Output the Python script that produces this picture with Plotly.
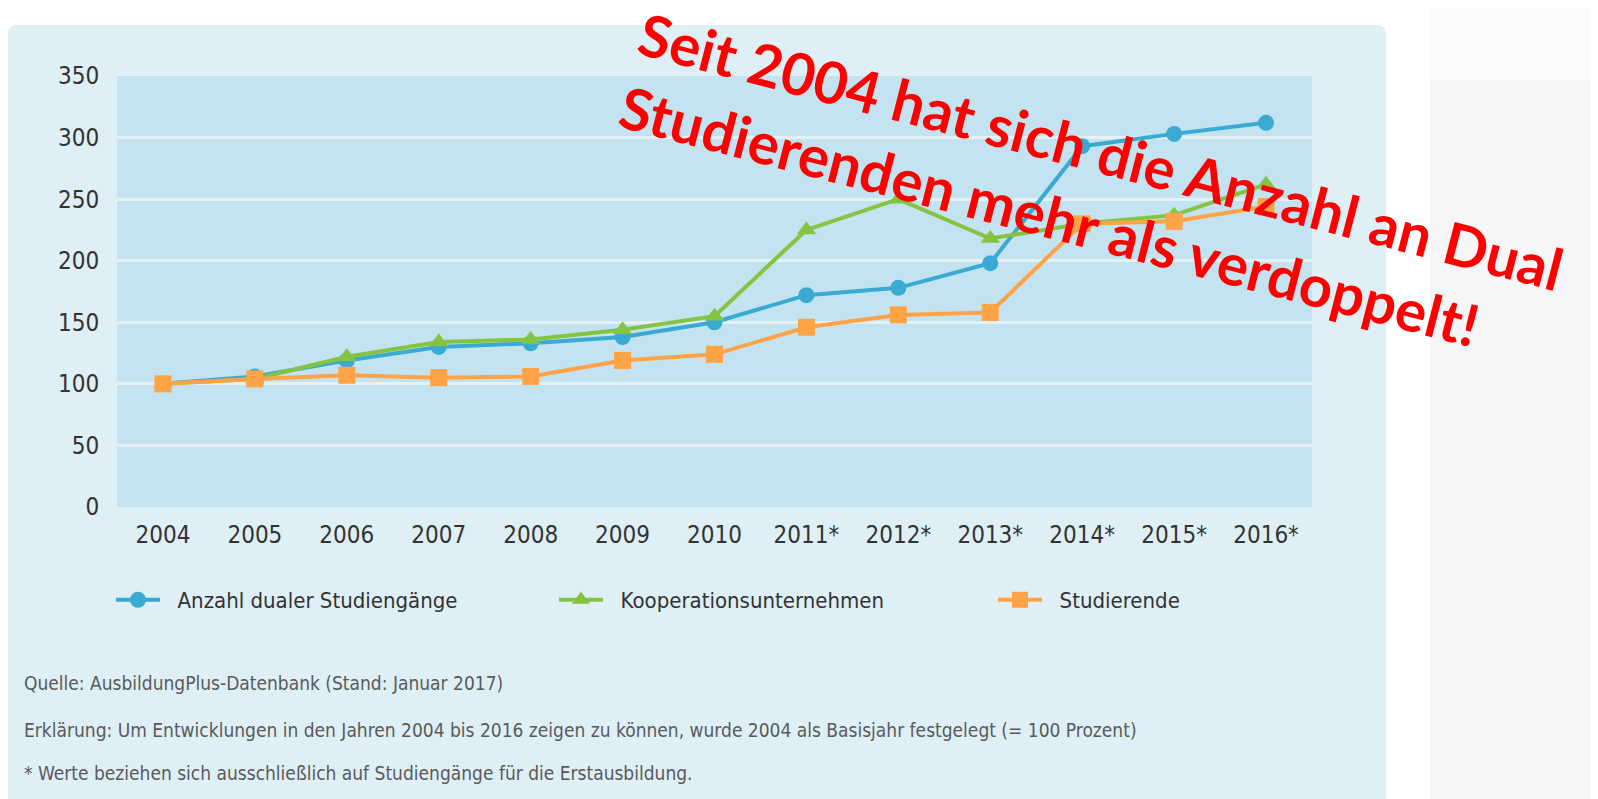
import plotly.graph_objects as go

# ---- data ----
years = ["2004", "2005", "2006", "2007", "2008", "2009", "2010",
         "2011*", "2012*", "2013*", "2014*", "2015*", "2016*"]
studiengaenge = [100, 106, 119, 130, 133, 138, 150, 172, 178, 198, 293, 303, 312]
kooperation = [100, 104, 122, 134, 136, 144, 155, 225, 250, 218, 230, 237, 262]
studierende = [100, 104, 107, 105, 106, 119, 124, 146, 156, 158, 230, 232, 244]
y_ticks = [0, 50, 100, 150, 200, 250, 300, 350]

series_names = ["Anzahl dualer Studiengänge", "Kooperationsunternehmen", "Studierende"]
footer_lines = [
    "Quelle: AusbildungPlus-Datenbank (Stand: Januar 2017)",
    "Erklärung: Um Entwicklungen in den Jahren 2004 bis 2016 zeigen zu können, wurde 2004 als Basisjahr festgelegt (= 100 Prozent)",
    "* Werte beziehen sich ausschließlich auf Studiengänge für die Erstausbildung.",
]
overlay_text = "Seit 2004 hat sich die Anzahl an Dual<br>Studierenden mehr als verdoppelt!"

# ---- layout geometry (screen pixels; page body has an 8px margin) ----
OFF = 8
W, H = 1598 - OFF, 799 - OFF
S_PL, S_PR, S_PT, S_PB = 117, 1312, 76, 507
PL, PR, PT, PB = S_PL - OFF, S_PR - OFF, S_PT - OFF, S_PB - OFF
FONT = "DejaVu Sans Condensed, Liberation Sans Narrow, sans-serif"


def px_x(sx):
    return (sx - OFF - PL) / (PR - PL)


def px_y(sy):
    return (PB - (sy - OFF)) / (PB - PT)


BLUE = "#3AAAD3"
GREEN = "#84C441"
ORANGE = "#FFA347"
SP = "\u00a0\u00a0"

fig = go.Figure()
fig.add_trace(go.Scatter(x=years, y=studiengaenge, name=SP + series_names[0], mode="lines+markers",
                         legend="legend",
                         line=dict(color=BLUE, width=4),
                         marker=dict(symbol="circle", size=16, color=BLUE)))
fig.add_trace(go.Scatter(x=years, y=kooperation, name=SP + series_names[1], mode="lines+markers",
                         legend="legend2",
                         line=dict(color=GREEN, width=4),
                         marker=dict(symbol="triangle-up", size=17, color=GREEN)))
fig.add_trace(go.Scatter(x=years, y=studierende, name=SP + series_names[2], mode="lines+markers",
                         legend="legend3",
                         line=dict(color=ORANGE, width=4),
                         marker=dict(symbol="square", size=17, color=ORANGE)))


def rounded_rect(x0, y0, x1, y1, r):
    X0, X1 = px_x(x0), px_x(x1)
    Y0, Y1 = px_y(y0), px_y(y1)  # Y0 top, Y1 bottom
    rx = r / (PR - PL)
    ry = r / (PB - PT)
    return (f"M {X0+rx},{Y0} L {X1-rx},{Y0} Q {X1},{Y0} {X1},{Y0-ry} "
            f"L {X1},{Y1+ry} Q {X1},{Y1} {X1-rx},{Y1} "
            f"L {X0+rx},{Y1} Q {X0},{Y1} {X0},{Y1+ry} "
            f"L {X0},{Y0-ry} Q {X0},{Y0} {X0+rx},{Y0} Z")


shapes = [
    dict(type="path", xref="paper", yref="paper", path=rounded_rect(8, 25, 1386, 830, 9),
         fillcolor="#DFEFF6", line=dict(width=0), layer="below"),
    dict(type="rect", xref="paper", yref="paper", x0=px_x(S_PL), x1=px_x(S_PR), y0=px_y(S_PB), y1=px_y(S_PT),
         fillcolor="#C2E3EF", line=dict(width=0), layer="below"),
    dict(type="rect", xref="paper", yref="paper", x0=px_x(1430), x1=px_x(1620), y0=px_y(80), y1=px_y(0),
         fillcolor="#FCFCFD", line=dict(width=0), layer="below"),
    dict(type="rect", xref="paper", yref="paper", x0=px_x(1430), x1=px_x(1620), y0=px_y(830), y1=px_y(80),
         fillcolor="#F6F6F8", line=dict(width=0), layer="below"),
]

annotations = []
for line, sy in zip(footer_lines, [683, 730, 773]):
    annotations.append(dict(text=line, xref="paper", yref="paper", x=px_x(22), y=px_y(sy),
                            xanchor="left", yanchor="middle", showarrow=False,
                            font=dict(family=FONT, size=19, color="#5A5A5A")))

annotations.append(dict(text=overlay_text, xref="paper", yref="paper", x=px_x(1092), y=px_y(187),
                        xanchor="center", yanchor="middle", showarrow=False, align="left",
                        textangle=14.5,
                        font=dict(family="Lato, Carlito, Open Sans, sans-serif", size=58,
                                  color="#FF0000", weight="bold")))

legend_common = dict(orientation="h", xanchor="left", yanchor="middle", bgcolor="rgba(0,0,0,0)",
                     font=dict(family=FONT, size=22, color="#333333"), itemwidth=44)

fig.update_layout(
    width=W, height=H,
    margin=dict(l=PL, r=W - PR, t=PT, b=H - PB),
    paper_bgcolor="white",
    plot_bgcolor="rgba(0,0,0,0)",
    shapes=shapes,
    annotations=annotations,
    showlegend=True,
    legend=dict(x=px_x(111), y=px_y(600), **legend_common),
    legend2=dict(x=px_x(554), y=px_y(600), **legend_common),
    legend3=dict(x=px_x(993), y=px_y(600), **legend_common),
    xaxis=dict(type="category", range=[-0.5, 12.5], showgrid=False, zeroline=False, showline=False,
               ticks="outside", ticklen=6, tickcolor="rgba(0,0,0,0)",
               tickfont=dict(family=FONT, size=24, color="#333333")),
    yaxis=dict(range=[0, 350], tickvals=y_ticks, showgrid=True, gridcolor="#E4F2F8", gridwidth=2.5,
               zeroline=False, showline=False, ticks="outside", ticklen=12, tickcolor="rgba(0,0,0,0)",
               tickfont=dict(family=FONT, size=24, color="#333333")),
)

fig.write_html("out.html")
